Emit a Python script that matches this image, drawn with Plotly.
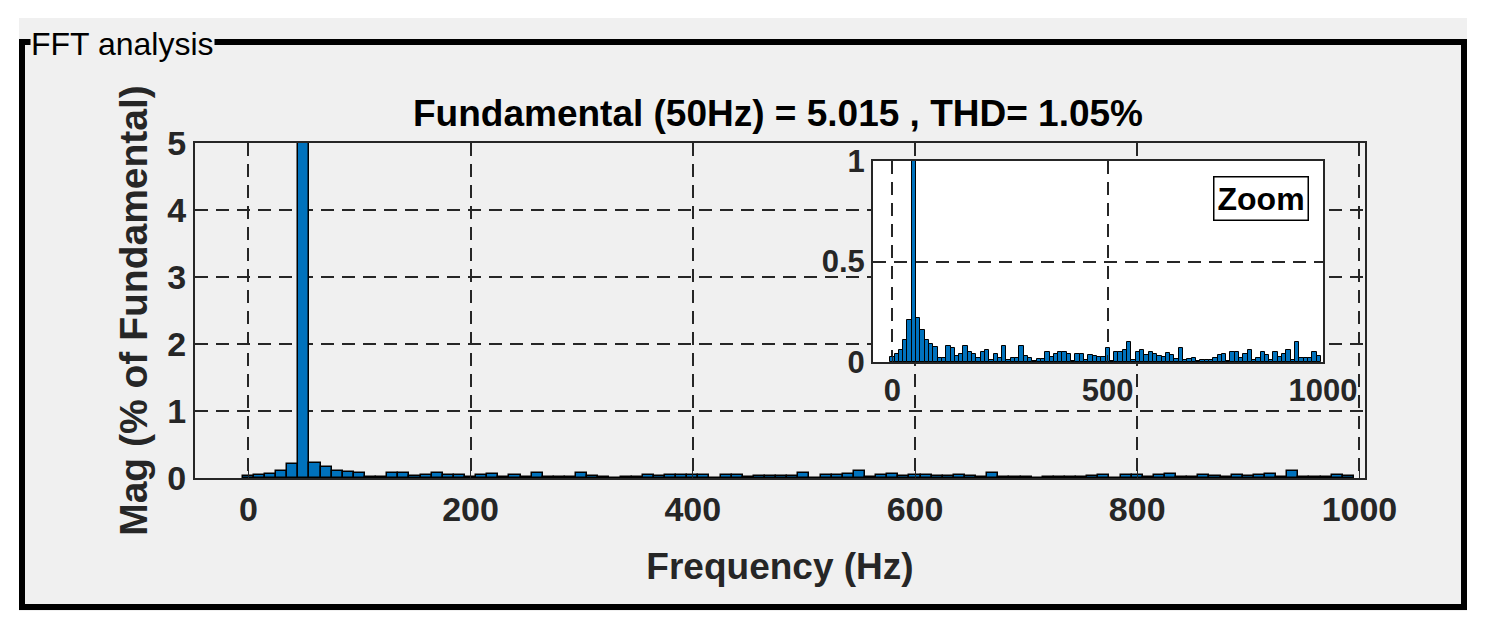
import plotly.graph_objects as go

freq = list(range(0, 1000, 10))
mag = [0.025,0.04,0.06,0.11,0.21,100,0.22,0.16,0.11,0.09,
       0.075,0.02,0.02,0.08,0.07,0.03,0.04,0.08,0.05,0.04,
       0.02,0.05,0.06,0.01,0.04,0.02,0.08,0.01,0.02,0.02,
       0.08,0.03,0.02,0.005,0.015,0.015,0.05,0.025,0.04,0.05,
       0.05,0.04,0.005,0.04,0.04,0.01,0.035,0.03,0.025,0.025,
       0.07,0.005,0.05,0.05,0.06,0.10,0.01,0.05,0.06,0.035,
       0.05,0.04,0.03,0.025,0.045,0.035,0.015,0.07,0.01,0.015,
       0.02,0.005,0.01,0.01,0.01,0.02,0.035,0.04,0.005,0.05,
       0.05,0.02,0.04,0.06,0.01,0.02,0.05,0.035,0.01,0.05,
       0.025,0.04,0.06,0.01,0.10,0.02,0.02,0.02,0.05,0.03]
main_yticks = [0, 1, 2, 3, 4, 5]
main_xticks = [0, 200, 400, 600, 800, 1000]
inset_yticks = [0, 0.5, 1]
inset_xticks = [0, 500, 1000]

W, H = 1493, 633
def px(x): return x / W
def py(y): return 1 - y / H

BLUE = "#0072BD"
FONT = "Liberation Sans"
C = "#262626"
fig = go.Figure()
fig.add_trace(go.Bar(x=freq, y=mag, width=10, marker=dict(color=BLUE, line=dict(color="black", width=1.5)),
                     xaxis="x", yaxis="y"))
fig.add_trace(go.Bar(x=freq, y=mag, width=10, marker=dict(color=BLUE, line=dict(color="black", width=1)),
                     xaxis="x2", yaxis="y2"))

def ax(size):
    return dict(showline=True, linecolor=C, linewidth=2, mirror=True, automargin=False,
                showgrid=True, gridcolor=C, griddash="13px,8px", gridwidth=2,
                zeroline=False, ticks="inside", ticklen=7, tickcolor=C,
                tickfont=dict(family=FONT, size=size, color=C))
b = lambda vals: [f"<b>{v}</b>" for v in vals]
fig.update_layout(
    width=W, height=H, margin=dict(l=0, r=0, t=0, b=0, pad=0),
    paper_bgcolor="white", plot_bgcolor="white", showlegend=False, bargap=0,
    font=dict(family=FONT),
    xaxis=dict(domain=[px(195), px(1365)], range=[-48, 1005], tickvals=main_xticks, ticktext=b(main_xticks),
               title=dict(text="<b>Frequency (Hz)</b>", font=dict(size=37, color=C), standoff=26),
               **ax(34)),
    yaxis=dict(domain=[py(478), py(143)], range=[0, 5], tickvals=main_yticks, ticktext=b(main_yticks),
               title=dict(text="<b>Mag (% of Fundamental)</b>", font=dict(size=39, color=C), standoff=8),
               **ax(34)),
    xaxis2=dict(domain=[px(873), px(1323)], range=[-45, 1000], tickvals=inset_xticks,
                ticktext=b(inset_xticks), anchor="y2", **ax(31)),
    yaxis2=dict(domain=[py(362), py(161)], range=[0, 1], tickvals=inset_yticks,
                ticktext=b(inset_yticks), anchor="x2", **ax(31)),
)

fig.add_shape(type="rect", xref="paper", yref="paper", x0=px(19), x1=px(1467), y0=py(611), y1=py(18),
              line=dict(width=0), fillcolor="#f0f0f0", layer="below")
fig.add_shape(type="rect", xref="paper", yref="paper", x0=px(22), x1=px(1464), y0=py(607), y1=py(42),
              line=dict(color="black", width=6), layer="below")
fig.add_annotation(xref="paper", yref="paper", x=px(30), y=py(44), xanchor="left", yanchor="middle",
                   text="FFT analysis", showarrow=False, bgcolor="#f0f0f0", borderpad=0,
                   font=dict(family=FONT, size=32, color="black"))
fig.add_annotation(xref="paper", yref="paper", x=px(778), y=py(113), xanchor="center", yanchor="middle",
                   text="<b>Fundamental (50Hz) = 5.015 , THD= 1.05%</b>", showarrow=False,
                   font=dict(family=FONT, size=37, color="black"))
fig.add_annotation(xref="paper", yref="paper", x=px(1261), y=py(199), xanchor="center", yanchor="middle",
                   text="<b>Zoom</b>", showarrow=False, bgcolor="white", bordercolor="black", borderwidth=1.5,
                   borderpad=3, font=dict(family=FONT, size=32, color="black"))
fig.write_html("out.html", config={"displayModeBar": False},
               post_script="document.body.style.margin='0';document.body.style.overflow='hidden';")
